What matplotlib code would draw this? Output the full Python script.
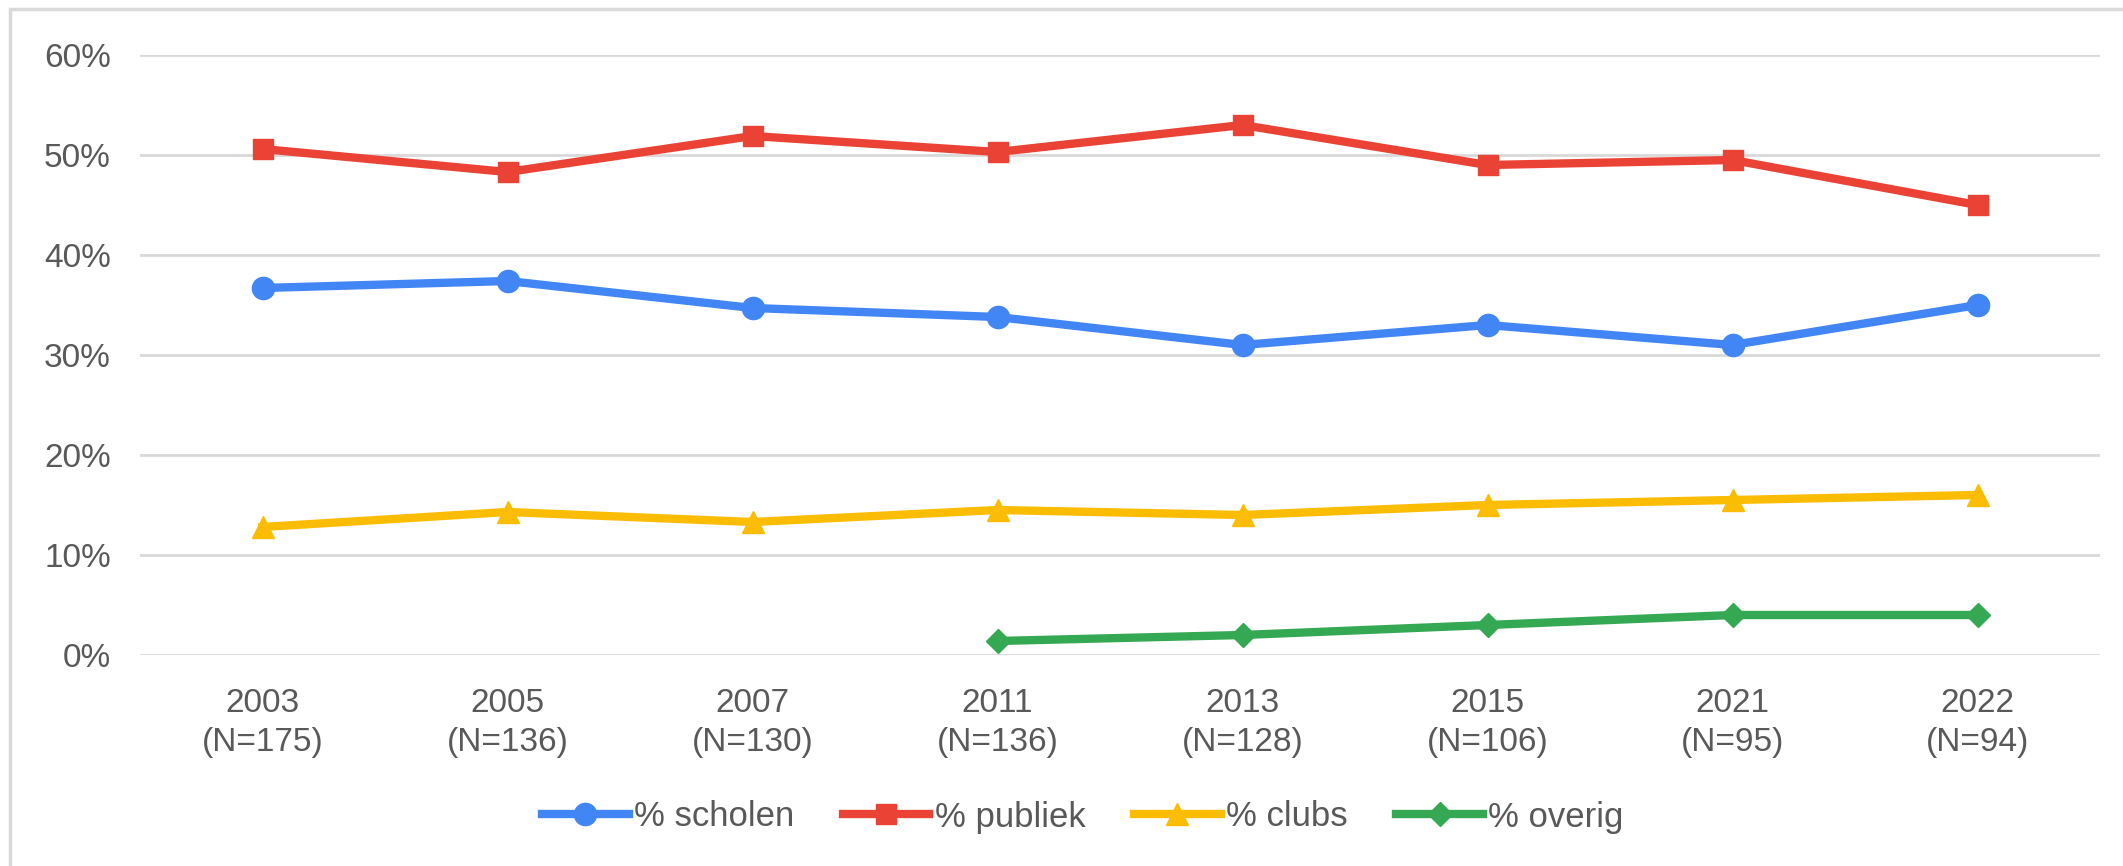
import matplotlib
matplotlib.use('Agg')
import matplotlib.pyplot as plt
from matplotlib.patches import Rectangle
from matplotlib.ticker import FuncFormatter

# --- data ---
years = ['2003', '2005', '2007', '2011', '2013', '2015', '2021', '2022']
sizes = [175, 136, 130, 136, 128, 106, 95, 94]
scholen = [36.7, 37.4, 34.7, 33.8, 31.0, 33.0, 31.0, 35.0]
publiek = [50.6, 48.3, 51.9, 50.3, 53.0, 49.0, 49.5, 45.0]
clubs = [12.8, 14.3, 13.3, 14.5, 14.0, 15.0, 15.5, 16.0]
overig_years = ['2011', '2013', '2015', '2021', '2022']
overig = [1.4, 2.0, 3.0, 4.0, 4.0]

tick_labels = [f'{y}\n(N={n})' for y, n in zip(years, sizes)]
text_color = '#595959'

plt.rcParams['font.family'] = ['Liberation Sans', 'DejaVu Sans']

fig = plt.figure(figsize=(21.23, 8.66), dpi=100)
ax = fig.add_axes([140 / 2123, 1 - 655 / 866, 1960 / 2123, 600 / 866])

# light frame around the chart
fig.patches.append(Rectangle((10 / 2123, -0.1), 1.2, 1.1 - 9 / 866,
                             transform=fig.transFigure, fill=False,
                             edgecolor='#d9d9d9', linewidth=2.5))

x = list(range(len(years)))
xo = [years.index(y) for y in overig_years]

ax.plot(x, scholen, color='#4285F4', lw=6, marker='o', ms=16, label='% scholen')
ax.plot(x, publiek, color='#EA4335', lw=6, marker='s', ms=15, label='% publiek')
ax.plot(x, clubs, color='#FBBC04', lw=6, marker='^', ms=16, label='% clubs')
ax.plot(xo, overig, color='#34A853', lw=6, marker='D', ms=12, label='% overig')

ax.set_xlim(-0.5, len(years) - 0.5)
ax.set_ylim(0, 60)
ax.set_yticks(range(0, 61, 10))
ax.yaxis.set_major_formatter(FuncFormatter(lambda v, p: f'{v:.0f}%'))
ax.set_xticks(x)
ax.set_xticklabels(tick_labels, linespacing=1.3)

ax.grid(axis='y', color='#d9d9d9', lw=2)
ax.set_axisbelow(True)
for s in ax.spines.values():
    s.set_visible(False)
ax.tick_params(length=0, labelsize=24, labelcolor=text_color)
ax.tick_params(axis='y', pad=21)
ax.tick_params(axis='x', pad=24)

ax.legend(loc='center', bbox_to_anchor=(0.481, -0.270), ncol=4, frameon=False,
          fontsize=25, labelcolor=text_color, handlelength=2.5, handletextpad=0.15,
          columnspacing=1.4)

fig.savefig('out.png', dpi=100, facecolor='white')
